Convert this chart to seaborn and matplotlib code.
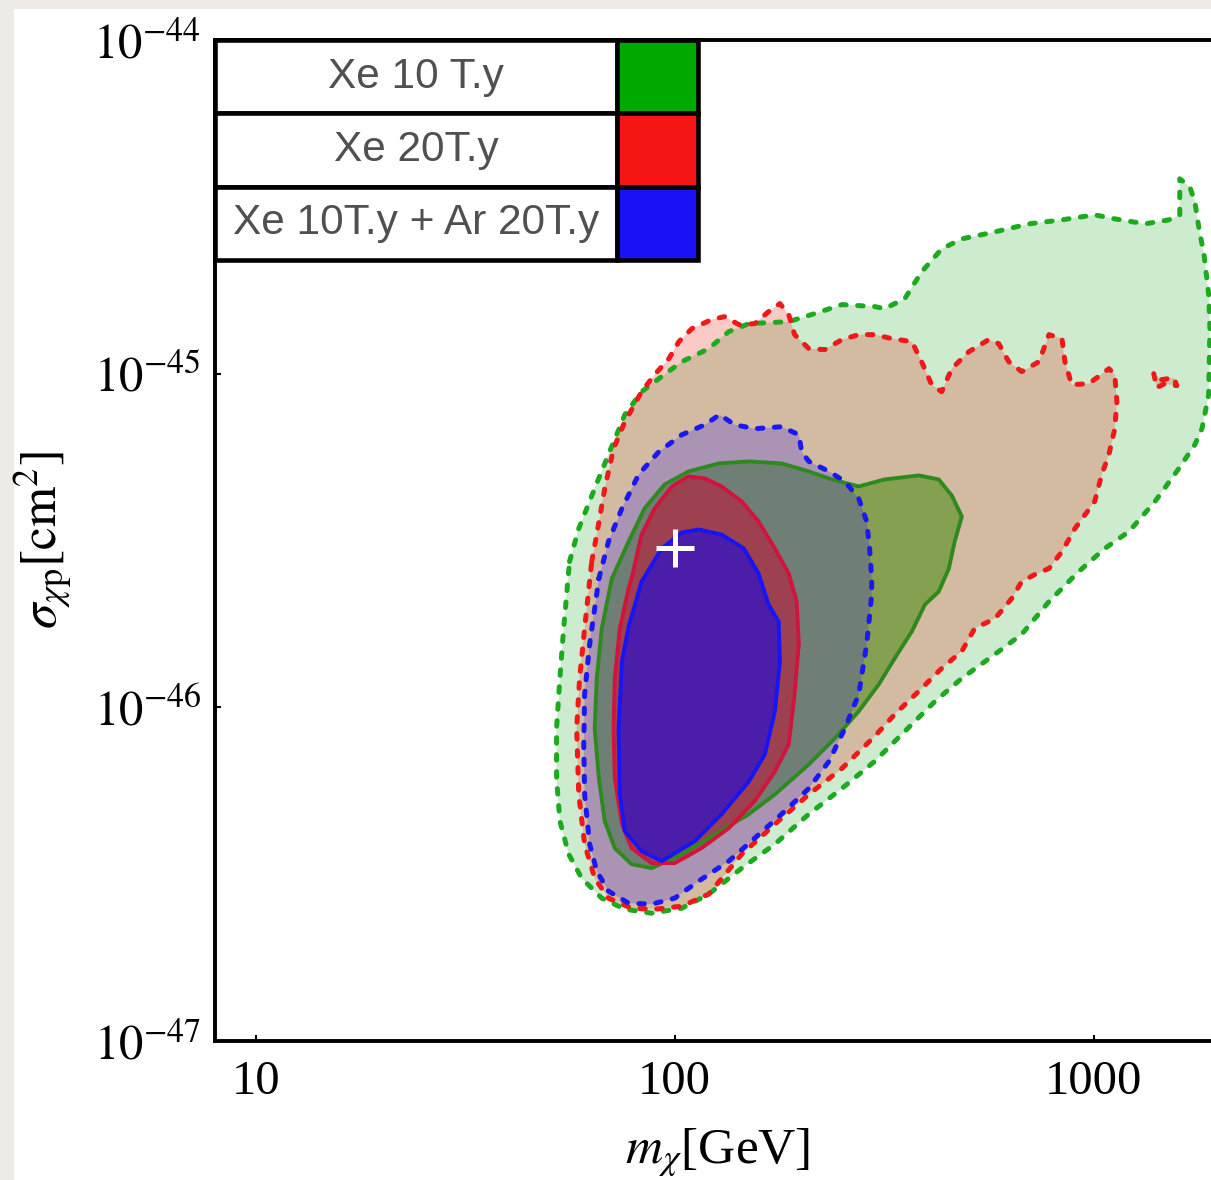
import numpy as np
import matplotlib
matplotlib.use("Agg")
import matplotlib.pyplot as plt
from matplotlib.patches import Rectangle
import seaborn as sns

# ---------------------------------------------------------------------------
# Data: benchmark point and reconstructed credible regions
# (vertices given as log10(m_chi / GeV) and log10(sigma_chi_p / cm^2))
# ---------------------------------------------------------------------------
bench_mass = 100.0        # GeV
bench_sigma = 3.0e-46     # cm^2

# Xe 10 T.y -- outer (dashed) region
xe10_outer_logm = [1.749, 1.771, 1.809, 1.842, 1.881, 1.921, 1.962, 2.017, 2.081, 2.129,
                   2.177, 2.272, 2.334, 2.399, 2.477, 2.501, 2.549, 2.589, 2.637, 2.685,
                   2.764, 2.845, 2.924, 3.002, 3.050, 3.122, 3.179, 3.205, 3.205, 3.229,
                   3.241, 3.251, 3.263, 3.274, 3.277, 3.274, 3.258, 3.241, 3.203, 3.146,
                   3.084, 3.026, 2.964, 2.893, 2.828, 2.764, 2.685, 2.621, 2.549, 2.477,
                   2.399, 2.320, 2.239, 2.160, 2.081, 2.017, 1.945, 1.881, 1.826, 1.778,
                   1.747, 1.726, 1.718, 1.718, 1.726, 1.735]
xe10_outer_logs = [-45.563, -45.464, -45.344, -45.242, -45.123, -45.054, -45.015, -44.964, -44.925, -44.874,
                   -44.850, -44.844, -44.820, -44.793, -44.799, -44.805, -44.775, -44.695, -44.626, -44.596,
                   -44.575, -44.551, -44.539, -44.524, -44.536, -44.551, -44.539, -44.524, -44.416, -44.440,
                   -44.485, -44.566, -44.644, -44.763, -44.865, -45.063, -45.165, -45.213, -45.284, -45.383,
                   -45.473, -45.524, -45.593, -45.683, -45.781, -45.841, -45.913, -45.982, -46.072, -46.162,
                   -46.243, -46.320, -46.410, -46.482, -46.560, -46.602, -46.617, -46.605, -46.572, -46.512,
                   -46.440, -46.341, -46.213, -46.063, -45.913, -45.763]

# Xe 20T.y -- outer (dashed) region
xe20_outer_logm = [1.802, 1.814, 1.833, 1.854, 1.881, 1.921, 1.952, 1.986, 2.010, 2.041,
                   2.088, 2.119, 2.153, 2.191, 2.224, 2.251, 2.272, 2.286, 2.320, 2.358,
                   2.399, 2.439, 2.477, 2.518, 2.566, 2.589, 2.613, 2.637, 2.661, 2.702,
                   2.749, 2.773, 2.797, 2.828, 2.869, 2.893, 2.924, 2.931, 2.947, 2.988,
                   3.036, 3.050, 3.055, 3.050, 3.036, 3.019, 3.002, 2.955, 2.924, 2.893,
                   2.859, 2.828, 2.804, 2.764, 2.716, 2.685, 2.637, 2.582, 2.525, 2.477,
                   2.399, 2.320, 2.239, 2.160, 2.081, 2.017, 1.952, 1.897, 1.842, 1.809,
                   1.785, 1.771, 1.766, 1.773, 1.785]
xe20_outer_logs = [-45.563, -45.482, -45.344, -45.225, -45.144, -45.054, -45.003, -44.955, -44.904, -44.865,
                   -44.838, -44.829, -44.853, -44.850, -44.814, -44.790, -44.823, -44.883, -44.925, -44.928,
                   -44.898, -44.883, -44.883, -44.895, -44.904, -44.964, -45.033, -45.054, -44.985, -44.934,
                   -44.898, -44.910, -44.964, -44.994, -44.964, -44.883, -44.895, -44.964, -45.033, -45.030,
                   -44.985, -45.003, -45.084, -45.165, -45.242, -45.302, -45.383, -45.464, -45.533, -45.584,
                   -45.602, -45.623, -45.674, -45.734, -45.763, -45.832, -45.883, -45.952, -46.021, -46.087,
                   -46.183, -46.261, -46.350, -46.440, -46.560, -46.596, -46.605, -46.602, -46.572, -46.512,
                   -46.410, -46.261, -46.063, -45.913, -45.763]

# Xe 20T.y -- small detached outer island
xe20_island_logm = [3.143, 3.150, 3.169, 3.198, 3.191, 3.162]
xe20_island_logs = [-45.000, -45.042, -45.030, -45.036, -45.012, -45.018]

# Xe 10T.y + Ar 20T.y -- outer (dashed) region
xear_outer_logm = [1.819, 1.842, 1.874, 1.914, 1.962, 2.017, 2.072, 2.107, 2.143, 2.191,
                   2.255, 2.296, 2.303, 2.320, 2.368, 2.406, 2.439, 2.458, 2.465, 2.470,
                   2.470, 2.458, 2.439, 2.406, 2.368, 2.320, 2.255, 2.191, 2.129, 2.057,
                   2.000, 1.945, 1.890, 1.842, 1.814, 1.797, 1.785, 1.783, 1.785, 1.797]
xear_outer_logs = [-45.614, -45.503, -45.404, -45.302, -45.234, -45.183, -45.153, -45.123, -45.153, -45.165,
                   -45.159, -45.183, -45.234, -45.263, -45.293, -45.323, -45.374, -45.443, -45.524, -45.614,
                   -45.662, -45.811, -45.961, -46.063, -46.162, -46.243, -46.320, -46.392, -46.461, -46.521,
                   -46.572, -46.590, -46.587, -46.551, -46.491, -46.410, -46.261, -46.111, -45.961, -45.811]

# Xe 10 T.y -- inner (solid) region
xe10_inner_logm = [1.850, 1.890, 1.928, 1.976, 2.033, 2.105, 2.177, 2.255, 2.320, 2.375,
                   2.439, 2.501, 2.582, 2.630, 2.661, 2.685, 2.668, 2.654, 2.630, 2.597,
                   2.566, 2.525, 2.487, 2.439, 2.382, 2.320, 2.239, 2.177, 2.081, 2.017,
                   1.945, 1.897, 1.857, 1.833, 1.819, 1.809, 1.814, 1.826]
xe10_inner_logs = [-45.614, -45.503, -45.404, -45.332, -45.293, -45.269, -45.263, -45.269, -45.293, -45.317,
                   -45.338, -45.317, -45.305, -45.317, -45.365, -45.428, -45.503, -45.584, -45.653, -45.692,
                   -45.772, -45.853, -45.931, -46.012, -46.093, -46.171, -46.261, -46.320, -46.392, -46.440,
                   -46.482, -46.470, -46.422, -46.341, -46.213, -46.063, -45.913, -45.763]

# Xe 20T.y -- inner (solid) region
xe20_inner_logm = [1.890, 1.897, 1.921, 1.952, 1.993, 2.033, 2.072, 2.112, 2.160, 2.200,
                   2.239, 2.272, 2.291, 2.296, 2.286, 2.272, 2.239, 2.191, 2.129, 2.064,
                   2.000, 1.945, 1.897, 1.874, 1.857, 1.854, 1.857, 1.869]
xe20_inner_logs = [-45.644, -45.614, -45.482, -45.404, -45.338, -45.308, -45.314, -45.338, -45.383, -45.443,
                   -45.524, -45.599, -45.683, -45.811, -45.961, -46.111, -46.192, -46.281, -46.362, -46.422,
                   -46.467, -46.467, -46.422, -46.350, -46.213, -46.063, -45.913, -45.763]

# Xe 10T.y + Ar 20T.y -- inner (solid) region
xear_inner_logm = [1.921, 1.969, 2.017, 2.057, 2.112, 2.165, 2.200, 2.224, 2.248, 2.251,
                   2.239, 2.215, 2.177, 2.112, 2.048, 1.969, 1.921, 1.881, 1.869, 1.866,
                   1.874, 1.890]
xear_inner_logs = [-45.623, -45.524, -45.476, -45.467, -45.482, -45.524, -45.599, -45.692, -45.743, -45.862,
                   -46.012, -46.141, -46.222, -46.320, -46.401, -46.461, -46.431, -46.371, -46.261, -46.063,
                   -45.862, -45.758]

# Legend entries
legend_labels = ["Xe 10 T.y", "Xe 20T.y", "Xe 10T.y + Ar 20T.y"]
legend_colors = ["#00A800", "#F51515", "#1A10F5"]

# Axis ticks
x_ticks = [10, 100, 1000]
x_tick_labels = ["10", "100", "1000"]
y_ticks = [1e-47, 1e-46, 1e-45, 1e-44]
y_tick_labels = [r"$10^{-47}$", r"$10^{-46}$", r"$10^{-45}$", r"$10^{-44}$"]

# ---------------------------------------------------------------------------
# Styling
# ---------------------------------------------------------------------------
sns.set_theme(style="ticks")
plt.rcParams["font.family"] = ["Liberation Serif", "DejaVu Serif"]
plt.rcParams["mathtext.fontset"] = "stix"

W, H = 1211, 1180
fig = plt.figure(figsize=(W / 100, H / 100), dpi=100)
fig.patch.set_facecolor("#EEEBE6")
page = Rectangle((14 / W, 0), 1.0, (H - 9) / H, transform=fig.transFigure,
                 facecolor="white", edgecolor="none")
page.set_zorder(-10)
fig.add_artist(page)

ax_left, ax_bottom = 215 / W, (H - 1041) / H
ax_w, ax_h = 1005 / W, 1001 / H
ax = fig.add_axes([ax_left, ax_bottom, ax_w, ax_h])
ax.set_zorder(1)
ax.set_facecolor("white")
ax.set_xscale("log")
ax.set_yscale("log")
ax.set_xlim(8, 2000)
ax.set_ylim(1e-47, 1e-44)


def to_lin(logv):
    return np.power(10.0, np.asarray(logv, dtype=float))


# (logm, logs, fill colour, alpha, line colour, dashed, fill z, line z)
regions = [
    (xe10_outer_logm, xe10_outer_logs, (0.00, 0.61, 0.06), 0.20, "#1EAA1E", True, 1, 7),
    (xe20_outer_logm, xe20_outer_logs, (0.93, 0.07, 0.00), 0.22, "#F01818", True, 2, 8),
    (xe20_island_logm, xe20_island_logs, (0.93, 0.07, 0.00), 0.22, "#F01818", True, 2, 8),
    (xe10_inner_logm, xe10_inner_logs, (0.28, 0.54, 0.06), 0.55, "#2E8A1E", False, 3, 9),
    (xear_outer_logm, xear_outer_logs, (0.16, 0.08, 0.94), 0.23, "#1A1AF0", True, 4, 10),
    (xe20_inner_logm, xe20_inner_logs, (0.72, 0.11, 0.23), 0.63, "#D0143C", False, 5, 11),
    (xear_inner_logm, xear_inner_logs, (0.24, 0.09, 0.72), 0.85, "#1515F5", False, 6, 12),
]

for logm, logs, fc, alpha, lc, dashed, zf, zl in regions:
    m = to_lin(logm)
    s = to_lin(logs)
    ax.fill(m, s, facecolor=fc, alpha=alpha, edgecolor="none", zorder=zf)
    mc = np.append(m, m[0])
    sc = np.append(s, s[0])
    if dashed:
        sns.lineplot(x=mc, y=sc, sort=False, estimator=None, ax=ax, color=lc,
                     lw=3.6, linestyle=(0, (1.1, 2.3)), dash_capstyle="round",
                     solid_joinstyle="round", zorder=zl)
    else:
        sns.lineplot(x=mc, y=sc, sort=False, estimator=None, ax=ax, color=lc,
                     lw=2.8, solid_joinstyle="round", zorder=zl)

# Benchmark point
ax.plot([bench_mass], [bench_sigma], marker="+", markersize=28, markeredgewidth=3.6,
        color="white", linestyle="none", zorder=15)

# Axes frame and ticks
for side in ["left", "bottom", "top", "right"]:
    ax.spines[side].set_linewidth(2.8)
    ax.spines[side].set_color("black")
ax.set_xticks(x_ticks)
ax.set_xticklabels(x_tick_labels)
ax.set_yticks(y_ticks)
ax.set_yticklabels(y_tick_labels)
ax.minorticks_off()
ax.tick_params(axis="both", which="major", direction="in", length=4, width=1.5,
               color="black", labelcolor="black", top=False, right=False)
ax.tick_params(axis="x", labelsize=35, pad=14)
ax.tick_params(axis="y", labelsize=35, pad=10)

ax.set_xlabel(r"$m_{\chi}$[GeV]", fontsize=37, labelpad=16, color="black")
ax.set_ylabel(r"$\sigma_{\chi \mathrm{p}}[\mathrm{cm}^2]$", fontsize=37, labelpad=14,
              color="black")

# Table-style legend in the upper-left corner
row_h = 0.0733
text_w = 0.40
swatch_w = 0.0806
lw_tab = 3.3
for i, (lab, col) in enumerate(zip(legend_labels, legend_colors)):
    y0 = 1.0 - (i + 1) * row_h
    ax.add_patch(Rectangle((0.0, y0), text_w, row_h, transform=ax.transAxes,
                           facecolor="white", edgecolor="black", lw=lw_tab,
                           clip_on=False, zorder=20))
    ax.add_patch(Rectangle((text_w, y0), swatch_w, row_h, transform=ax.transAxes,
                           facecolor=col, edgecolor="black", lw=lw_tab,
                           clip_on=False, zorder=20))
    ax.text(text_w / 2, y0 + row_h / 2, lab, transform=ax.transAxes,
            ha="center", va="center", fontsize=30.5, color="#505050",
            family=["Liberation Sans", "DejaVu Sans"], zorder=21)

fig.savefig("out.png", dpi=100, facecolor=fig.get_facecolor())
